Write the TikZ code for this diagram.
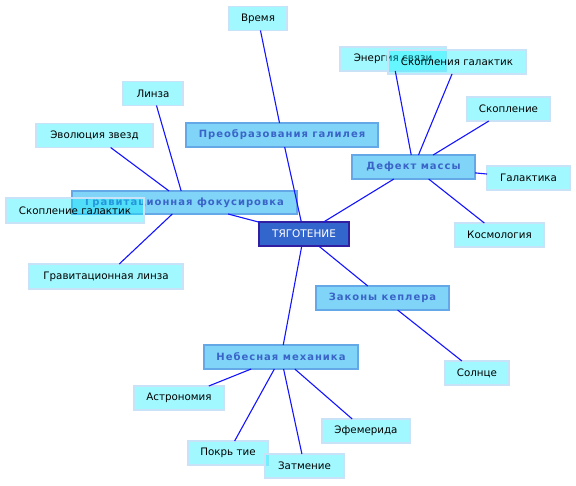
\documentclass[tikz,border=0pt]{standalone}
\usepackage{fontspec}
\setmainfont{DejaVu Sans}
\newfontfamily\midfont[LetterSpace=10]{DejaVu Sans Bold}
\definecolor{leaffill}{RGB}{0,240,255}
\definecolor{leafdraw}{RGB}{200,226,248}
\definecolor{midfill}{RGB}{128,212,247}
\definecolor{middraw}{RGB}{100,168,232}
\definecolor{midtext}{RGB}{58,100,200}
\definecolor{corefill}{RGB}{51,102,204}
\definecolor{coredraw}{RGB}{50,30,160}
\definecolor{linkcol}{RGB}{20,20,255}
\tikzset{
  boxbase/.style={rectangle, inner sep=0pt, outer sep=0pt, minimum height=24pt, align=center},
  leaf/.style={boxbase, fill=leaffill, fill opacity=0.37, text opacity=1, draw=leafdraw, line width=1.2pt, draw opacity=1, font=\fontsize{10.3}{12}\selectfont, text=black},
  midbox/.style={boxbase, fill=midfill, draw=middraw, line width=1.2pt, font=\midfont\fontsize{10}{12}\selectfont, text=midtext},
  corebox/.style={boxbase, fill=corefill, draw=coredraw, line width=1.2pt, font=\fontsize{10.5}{12}\selectfont, text=white},
  link/.style={draw=linkcol, line width=1.1pt}
}
\begin{document}
\begin{tikzpicture}[x=1pt,y=-1pt]
\useasboundingbox (0,0) rectangle (576,485);
% core and mid-level nodes
\node[corebox, minimum width=90pt] (core) at (304,234) {ТЯГОТЕНИЕ};
\node[midbox, minimum width=192pt] (gal) at (282,135) {Преобразования галилея};
\node[midbox, minimum width=123pt] (def) at (413.5,167) {Дефект массы};
\node[midbox, minimum width=225pt, minimum height=23pt] (fok) at (184.5,202.5) {Гравитационная фокусировка};
\node[midbox, minimum width=133pt] (kep) at (382.5,298) {Законы кеплера};
\node[midbox, minimum width=154pt] (neb) at (281,357) {Небесная механика};
% leaves
\node[leaf, minimum width=58pt] (vrem) at (258,18.5) {Время};
\node[leaf, minimum width=60pt] (linza) at (153,93.5) {Линза};
\node[leaf, minimum width=117pt] (evol) at (94.5,135.5) {Эволюция звезд};
\node[leaf, minimum width=106pt] (energ) at (393,59) {Энергия связи};
\node[leaf, minimum width=138pt] (skopg) at (457,62) {Скопления галактик};
\node[leaf, minimum width=83pt] (skop) at (508.5,109) {Скопление};
\node[leaf, minimum width=83pt] (galak) at (528.5,178) {Галактика};
\node[leaf, minimum width=89pt] (kosm) at (499.5,235) {Космология};
\node[leaf, minimum width=138pt, minimum height=25pt] (skopl) at (75,210.5) {Скопление галактик};
\node[leaf, minimum width=154pt, minimum height=25pt] (gravl) at (106,276.5) {Гравитационная линза};
\node[leaf, minimum width=64pt] (soln) at (477,373) {Солнце};
\node[leaf, minimum width=90pt] (astr) at (179,398) {Астрономия};
\node[leaf, minimum width=80pt] (pokr) at (228,453) {Покрь тие};
\node[leaf, minimum width=79pt] (zatm) at (304.5,466) {Затмение};
\node[leaf, minimum width=88pt] (efem) at (366,431) {Эфемерида};
% connectors
\draw[link] (vrem) -- (gal);
\draw[link] (gal) -- (core);
\draw[link] (fok) -- (core);
\draw[link] (def) -- (core);
\draw[link] (kep) -- (core);
\draw[link] (neb) -- (core);
\draw[link] (linza) -- (fok);
\draw[link] (evol) -- (fok);
\draw[link] (gravl) -- (fok);
\draw[link] (energ) -- (def);
\draw[link] (skopg) -- (def);
\draw[link] (skop) -- (def);
\draw[link] (galak) -- (def);
\draw[link] (kosm) -- (def);
\draw[link] (soln) -- (kep);
\draw[link] (astr) -- (neb);
\draw[link] (pokr) -- (neb);
\draw[link] (zatm) -- (neb);
\draw[link] (efem) -- (neb);
\end{tikzpicture}
\end{document}
